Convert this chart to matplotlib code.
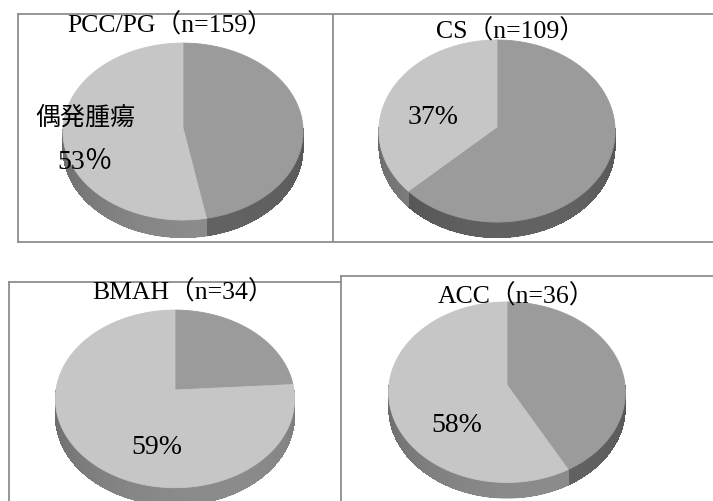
import numpy as np
import matplotlib
matplotlib.use('Agg')
import matplotlib.pyplot as plt
import matplotlib.transforms as mtransforms
from matplotlib.path import Path
from matplotlib.collections import PolyCollection
from matplotlib.colors import to_rgb

W, H = 713, 501

# group shares in %, first slice starts at 12 o'clock and runs clockwise
titles   = ['PCC/PG', 'CS', 'BMAH', 'ACC']
n_cases  = [159, 109, 34, 36]
pcc_pg   = [47, 53]
cs       = [63, 37]
bmah     = [24, 59, 17]
acc      = [42, 58]
shares   = [pcc_pg, cs, bmah, acc]
shade    = [['d', 'l'], ['d', 'l'], ['d', 'l', 'l'], ['d', 'l']]
labelled = [1, 1, 1, 1]
pct_sign = ['％', '%', '%', '%']
tag      = '偶発腫瘍'

TOP = {'d': '#9b9b9b', 'l': '#c6c6c6'}
SIDE = {'d': '#5e5e5e', 'l': '#868686'}
FRAME = '#8e8e8e'

# apex x, apex y, radius (px), squash, perspective, depth (px)
geom = [(183, 128, 120, 0.736, 0.040, 18),
        (497, 127, 118, 0.770, 0.044, 16),
        (175, 390, 119, 0.739, 0.100, 18),
        (507, 385, 118, 0.760, 0.080, 16)]

title_xy = [(170, 25), (511, 31), (183, 292), (517, 296)]
pct_xy   = [(85, 163), (433, 117), (157, 448), (457, 425)]
tag_xy   = (85, 118)

SERIF = ['Liberation Serif', 'Noto Sans CJK JP']


class Tilt(mtransforms.Transform):
    """squash + simple perspective so the disc looks tipped back"""
    input_dims = output_dims = 2

    def __init__(self, s, p):
        super().__init__()
        self.s, self.p = s, p

    def transform_non_affine(self, xy):
        xy = np.atleast_2d(np.asarray(xy, float))
        w = 1 + self.p * xy[:, 1]
        return np.column_stack([xy[:, 0] / w, self.s * xy[:, 1] / w])

    def transform_path_non_affine(self, path):
        pts = [b(np.linspace(0, 1, 16)) for b, _ in path.iter_bezier()]
        return Path(self.transform_non_affine(np.concatenate(pts)))


def fx(x): return x / W
def fy(y): return 1 - y / H


fig = plt.figure(figsize=(W / 100, H / 100), dpi=100)
bg = fig.add_axes([0, 0, 1, 1])
bg.set_xlim(0, W); bg.set_ylim(H, 0); bg.axis('off')

# panel frames
lw = 1.3
bg.plot([18, W], [14, 14], c=FRAME, lw=lw)
bg.plot([18, W], [242, 242], c=FRAME, lw=lw)
bg.plot([18, 18], [14, 242], c=FRAME, lw=lw)
bg.plot([333, 333], [14, 242], c=FRAME, lw=lw)
bg.plot([9, 341], [282, 282], c=FRAME, lw=lw)
bg.plot([9, 9], [282, H], c=FRAME, lw=lw)
bg.plot([341, W], [276, 276], c=FRAME, lw=lw)
bg.plot([341, 341], [276, H], c=FRAME, lw=lw)

for vals, sh, (cx, cy, r, s, p, dep) in zip(shares, shade, geom):
    L = 1.3
    ax = fig.add_axes([fx(cx - L * r), fy(cy + L * r), 2 * L * r / W, 2 * L * r / H])
    wedges, _ = ax.pie(vals, colors=[TOP[k] for k in sh], startangle=90,
                       counterclock=False, wedgeprops=dict(linewidth=0.6))
    tilt = Tilt(s, p)
    d = dep / r
    for w, k in zip(wedges, sh):
        w.set_edgecolor(w.get_facecolor())
        w.set_transform(tilt + ax.transData)
        w.set_zorder(3)
        t = np.radians(np.linspace(w.theta1, w.theta2, 400))
        t = t[np.sin(t) < 0]
        if len(t) < 2:
            continue
        top = tilt.transform(np.column_stack([np.cos(t), np.sin(t)]))
        low = top - [0, d]
        # solid rim first (antialiased outline), then gradient strips on top
        ax.fill(np.r_[top[:, 0], low[::-1, 0]], np.r_[top[:, 1], low[::-1, 1]],
                color=SIDE[k], lw=0, zorder=1)
        base = np.array(to_rgb(SIDE[k]))
        polys, cols = [], []
        for i in range(0, len(t) - 1, 3):
            j = min(i + 3, len(t) - 1)
            tm = 0.5 * (t[i] + t[j])
            a, b = top[i], top[j]
            polys.append([a, b, b - [0, d * 0.97], a - [0, d * 0.97]])
            f = 0.84 + 0.2 * (-np.sin(tm - 0.35))
            cols.append(np.clip(base * f, 0, 1))
        ax.add_collection(PolyCollection(polys, facecolors=cols, edgecolors='none',
                                         antialiaseds=False, zorder=2))
    ax.set_aspect('equal')
    ax.set_xlim(-L, L); ax.set_ylim(-L, L)
    ax.axis('off')

for name, n, (x, y) in zip(titles, n_cases, title_xy):
    fig.text(fx(x), fy(y), f'{name}（n={n}）', family=SERIF, fontsize=18.5,
             ha='center', va='center')

for vals, i, sign, (x, y) in zip(shares, labelled, pct_sign, pct_xy):
    fig.text(fx(x), fy(y), f'{vals[i]}{sign}', family=SERIF, fontsize=20,
             ha='center', va='center')

fig.text(fx(tag_xy[0]), fy(tag_xy[1]), tag, family=['Noto Sans CJK JP'],
         fontsize=18, ha='center', va='center')

fig.savefig('out.png', dpi=100)
